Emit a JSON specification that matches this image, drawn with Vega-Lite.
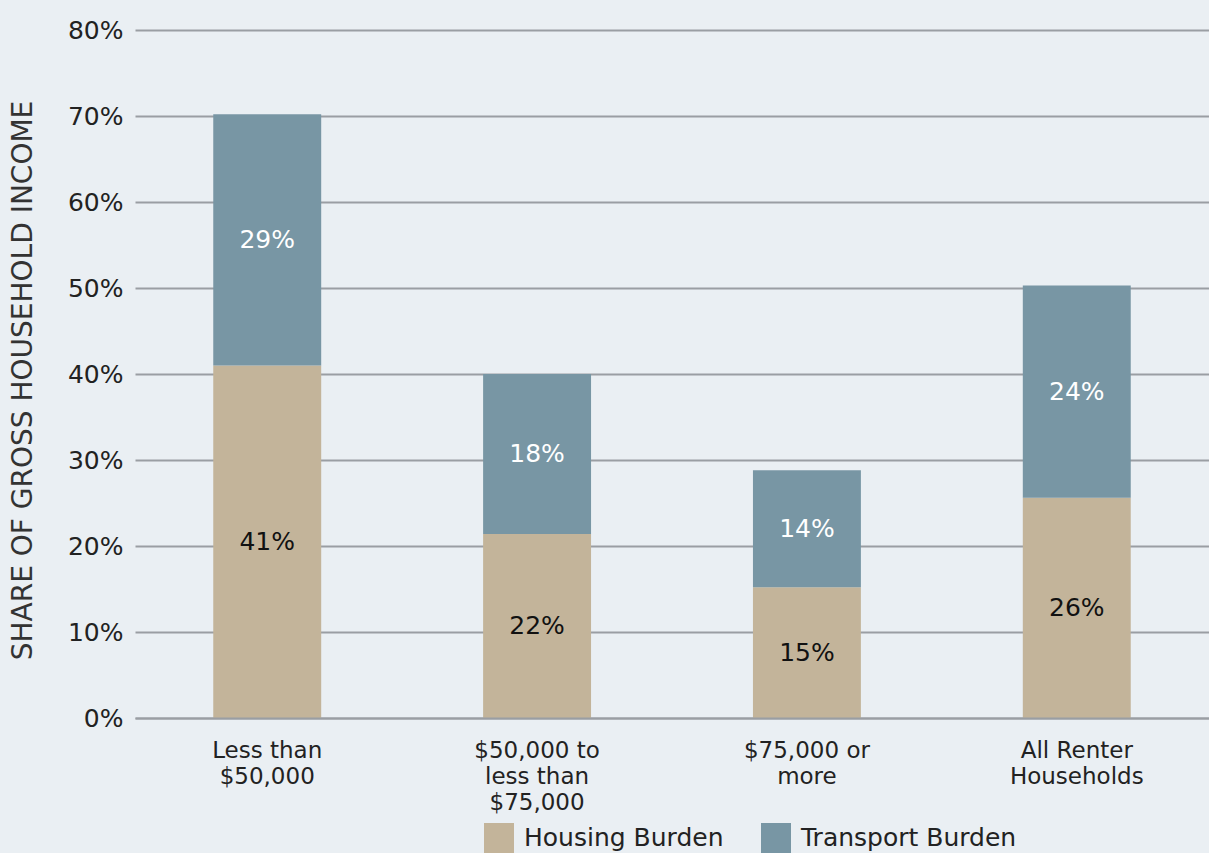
{
  "$schema": "https://vega.github.io/schema/vega-lite/v6.json",
  "autosize": {"type": "none"},
  "padding": {"left": 135, "top": 30, "right": 0, "bottom": 135},
  "width": 1074,
  "height": 688,
  "background": "#eaeff3",
  "config": {
    "view": {"stroke": null},
    "font": "DejaVu Sans"
  },
  "data": {
    "values": [
      {"group": "Less than|$50,000", "series": "Housing Burden", "value": 41.0, "label": "41%", "ord": 1},
      {"group": "Less than|$50,000", "series": "Transport Burden", "value": 29.2, "label": "29%", "ord": 2},
      {"group": "$50,000 to|less than|$75,000", "series": "Housing Burden", "value": 21.4, "label": "22%", "ord": 1},
      {"group": "$50,000 to|less than|$75,000", "series": "Transport Burden", "value": 18.6, "label": "18%", "ord": 2},
      {"group": "$75,000 or|more", "series": "Housing Burden", "value": 15.2, "label": "15%", "ord": 1},
      {"group": "$75,000 or|more", "series": "Transport Burden", "value": 13.6, "label": "14%", "ord": 2},
      {"group": "All Renter|Households", "series": "Housing Burden", "value": 25.6, "label": "26%", "ord": 1},
      {"group": "All Renter|Households", "series": "Transport Burden", "value": 24.7, "label": "24%", "ord": 2}
    ]
  },
  "transform": [
    {"stack": "value", "groupby": ["group"], "sort": [{"field": "ord", "order": "ascending"}], "as": ["v0", "v1"]},
    {"calculate": "(datum.v0 + datum.v1) / 2", "as": "vmid"}
  ],
  "encoding": {
    "x": {
      "field": "group",
      "type": "nominal",
      "sort": null,
      "scale": {"paddingInner": 0.6, "paddingOuter": 0.29},
      "axis": {
        "title": null,
        "labelExpr": "split(datum.label, '|')",
        "labelAngle": 0,
        "labelFontSize": 23,
        "labelColor": "#222222",
        "labelLineHeight": 26,
        "labelPadding": 39,
        "labelBaseline": "alphabetic",
        "ticks": false,
        "domain": true,
        "domainColor": "#9a9ea3",
        "domainWidth": 2,
        "zindex": 1
      }
    }
  },
  "layer": [
    {
      "mark": {"type": "bar"},
      "encoding": {
        "y": {
          "field": "v0",
          "type": "quantitative",
          "scale": {"domain": [0, 80]},
          "axis": {
            "title": "SHARE OF GROSS HOUSEHOLD INCOME",
            "titleFontSize": 28,
            "titleFontWeight": "normal",
            "titleColor": "#333333",
            "titleAngle": -90,
            "titleX": -112,
            "titleY": 350,
            "titleAlign": "center",
            "titleBaseline": "middle",
            "titleLimit": 800,
            "values": [0, 10, 20, 30, 40, 50, 60, 70, 80],
            "labelExpr": "datum.value + '%'",
            "labelFontSize": 25,
            "labelColor": "#222222",
            "labelPadding": 12,
            "ticks": false,
            "domain": false,
            "grid": true,
            "gridColor": "#9a9ea3",
            "gridWidth": 2
          }
        },
        "y2": {"field": "v1"},
        "color": {
          "field": "series",
          "type": "nominal",
          "scale": {"domain": ["Housing Burden", "Transport Burden"], "range": ["#c3b49a", "#7896a4"]},
          "legend": {
            "title": null,
            "orient": "none",
            "legendX": 349,
            "legendY": 793,
            "direction": "horizontal",
            "symbolType": "square",
            "symbolSize": 900,
            "symbolStrokeWidth": 0,
            "labelFontSize": 25,
            "labelColor": "#222222",
            "labelOffset": 10,
            "labelLimit": 400,
            "columnPadding": 37,
            "padding": 0
          }
        }
      }
    },
    {
      "transform": [{"filter": "datum.series == 'Housing Burden'"}],
      "mark": {"type": "text", "fontSize": 25, "fontWeight": 500, "color": "#111111", "baseline": "middle"},
      "encoding": {
        "y": {"field": "vmid", "type": "quantitative"},
        "text": {"field": "label"}
      }
    },
    {
      "transform": [{"filter": "datum.series == 'Transport Burden'"}],
      "mark": {"type": "text", "fontSize": 25, "fontWeight": 500, "color": "#ffffff", "baseline": "middle"},
      "encoding": {
        "y": {"field": "vmid", "type": "quantitative"},
        "text": {"field": "label"}
      }
    }
  ]
}
